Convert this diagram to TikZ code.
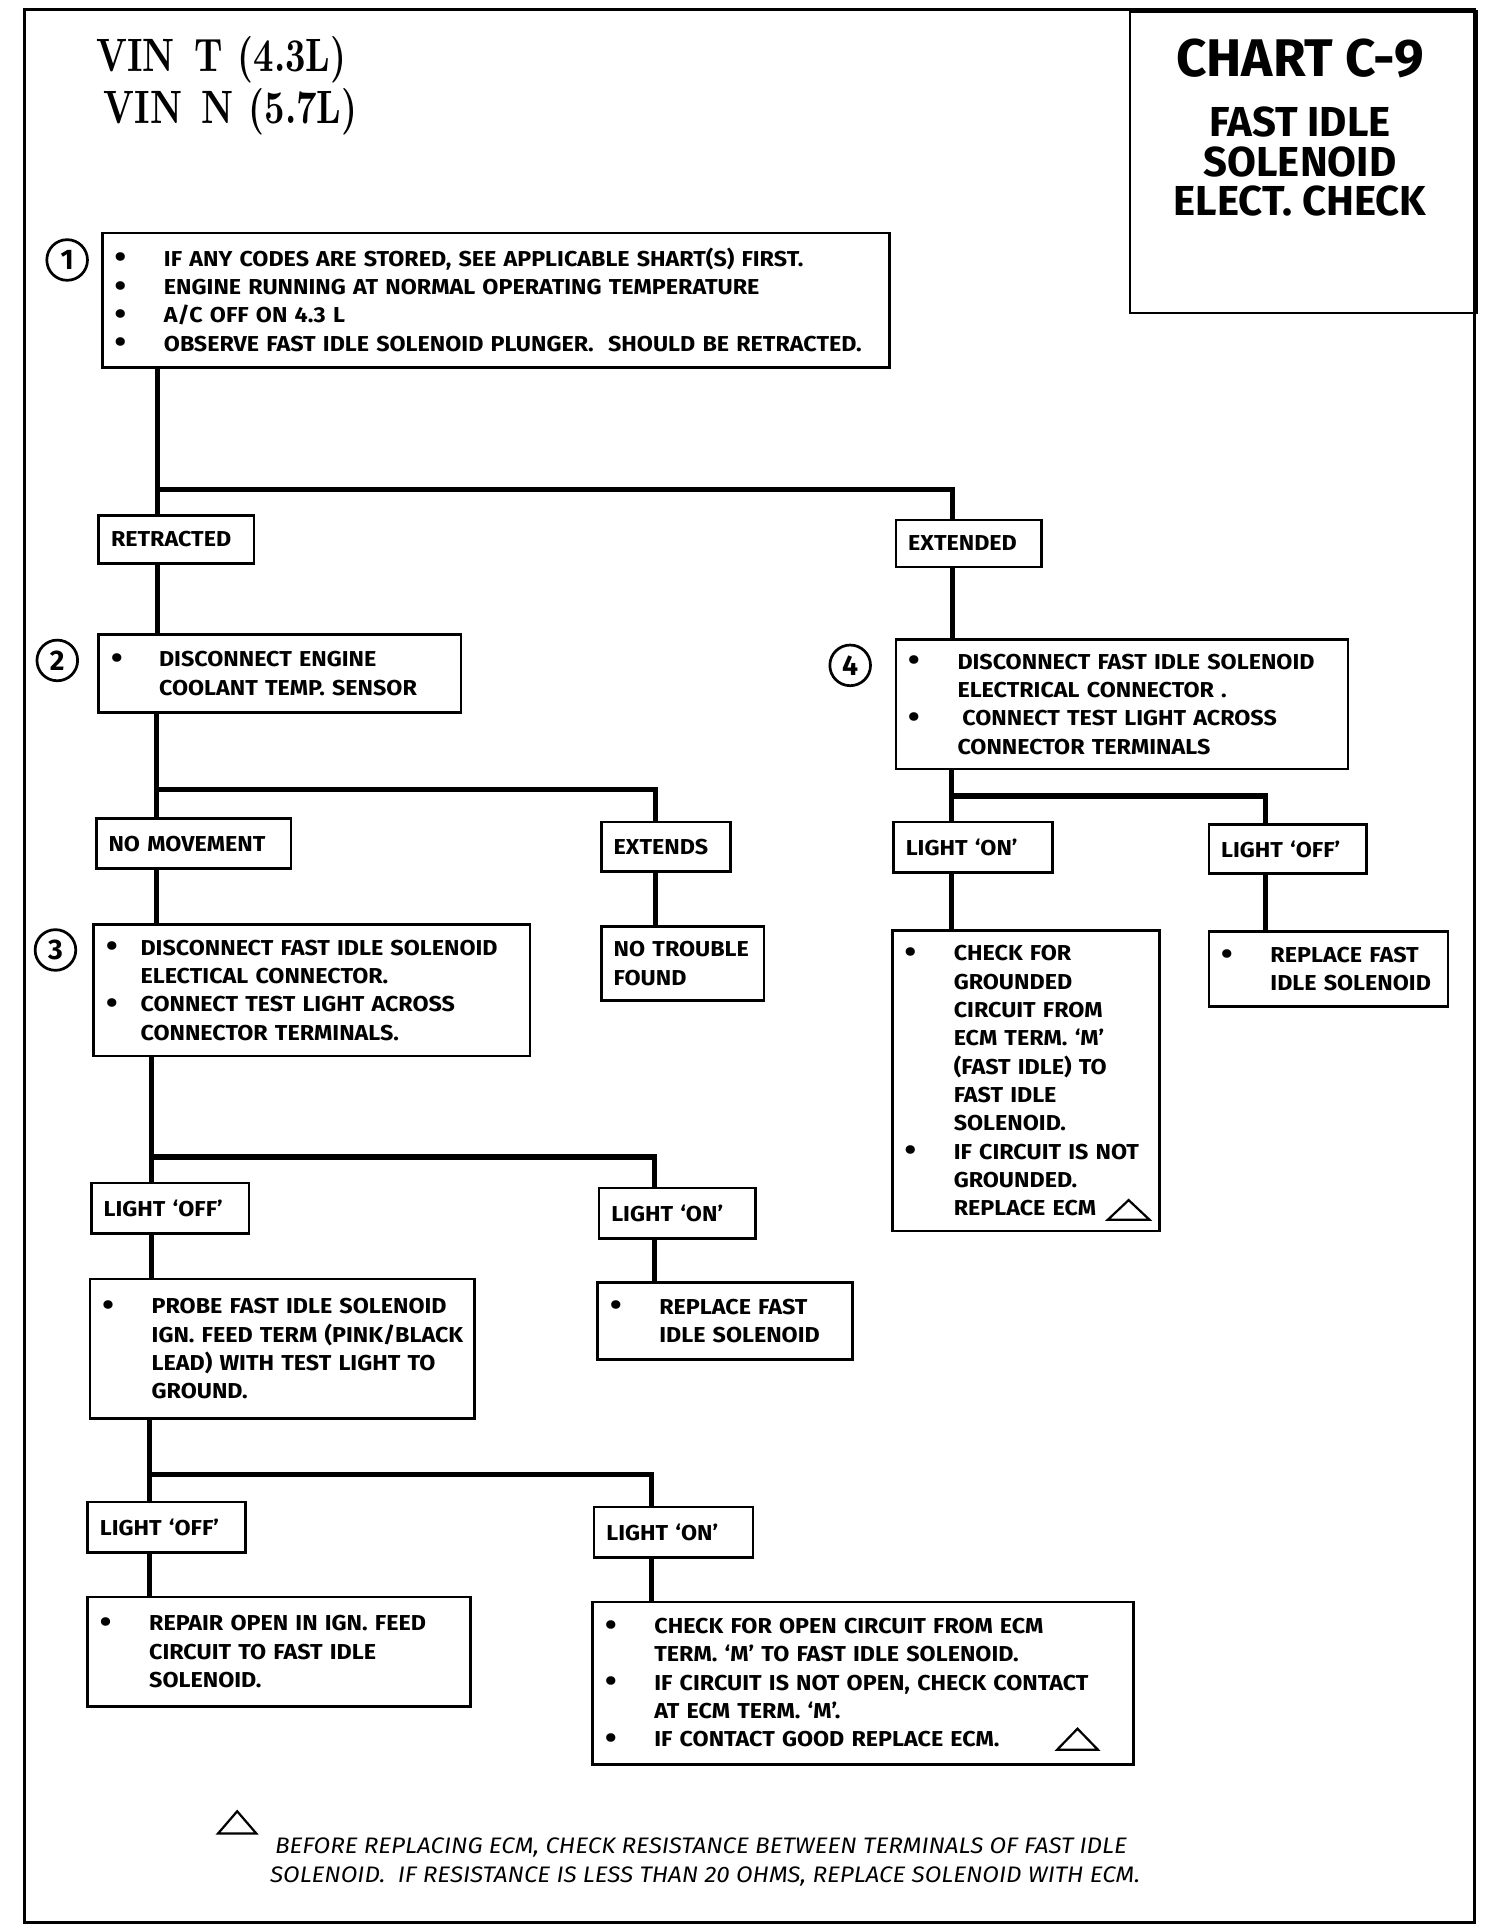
\documentclass[tikz,border=0pt]{standalone}
\usepackage{fontspec}
\usepackage{graphicx}
\setmainfont{Fira Sans}
\newfontfamily\vinfont{lmroman10-bold}[Extension=.otf, FakeStretch=0.76]
\newfontfamily\boxfam{Fira Sans}[FakeStretch=1.08, Ligatures=TeX]
\newcommand\bx{\boxfam\fontsize{17.5}{23}\selectfont\bfseries}
\newcommand\bdot{\raisebox{-1.3pt}{\fontsize{25}{0}\selectfont\textbullet}}
\newcommand\bl[2][40pt]{\mbox{\makebox[#1][l]{\bdot}#2}}
\newcommand\il[2][40pt]{\mbox{\hspace*{#1}#2}}
\tikzset{
  box/.style={draw, line width=2.2pt, anchor=north west, align=left, inner xsep=10pt, inner ysep=0pt, font=\bx},
  conn/.style={line width=4.2pt},
  tri/.style={line width=1.8pt, line join=miter},
  num/.style={circle, draw, line width=2.2pt, minimum size=33pt, inner sep=0pt, font=\fontsize{23}{23}\selectfont\bfseries},
  fnote/.style={anchor=base west, inner sep=0pt, font=\boxfam\fontsize{18.2}{20}\selectfont\itshape},
  vin/.style={anchor=base west, inner sep=0pt, font=\vinfont\fontsize{38}{40}\selectfont},
}
\begin{document}
\begin{tikzpicture}[x=1pt,y=-1pt]
\useasboundingbox (0,0) rectangle (1221,1568);
% outer frame
\draw[line width=2.6pt] (20,8) rectangle (1197,1560);
% header
\node[vin] (vin1) at (78,58) {VIN\hspace{16pt}T\hspace{12pt}(4.3L)};
\node[vin] (vin2) at (84,100) {VIN\hspace{16pt}N\hspace{12pt}(5.7L)};
% title box
\node[draw, line width=2.2pt, anchor=north west, minimum width=281pt, minimum height=245pt, inner sep=0pt] (title) at (916,8) {};
\node[anchor=base, inner sep=0pt, font=\fontsize{43}{44}\selectfont\bfseries] (t1) at (1055,62) {CHART C-9};
\node[anchor=base, inner sep=0pt, font=\fontsize{34}{35}\selectfont\bfseries] (t2) at (1055,111) {FAST IDLE};
\node[anchor=base, inner sep=0pt, font=\fontsize{34}{35}\selectfont\bfseries] (t3) at (1055,143) {SOLENOID};
\node[anchor=base, inner sep=0pt, font=\fontsize{34}{35}\selectfont\bfseries] (t4) at (1055,175) {ELECT. CHECK};

% step numbers
\node[num] (n1) at (54.5,211) {1};
\node[num] (n2) at (46.5,536) {2};
\node[num] (n3) at (45,771) {3};
\node[num] (n4) at (690,540) {4};

% boxes
\node[box, text width=619pt, minimum height=109pt] (b1) at (82,188) {\bl{IF ANY CODES ARE STORED, SEE APPLICABLE SHART(S) FIRST.}\\ \bl{ENGINE RUNNING AT NORMAL OPERATING TEMPERATURE}\\ \bl{A/C OFF ON 4.3 L}\\ \bl{OBSERVE FAST IDLE SOLENOID PLUNGER.\ \ SHOULD BE RETRACTED.}};
\node[box, text width=106pt, minimum height=39pt] (retr) at (79,417) {RETRACTED};
\node[box, text width=98pt, minimum height=38pt] (ext) at (726,421) {EXTENDED};
\node[box, text width=274pt, minimum height=63pt] (b2) at (79,514) {\bl[39pt]{DISCONNECT ENGINE}\\ \il[39pt]{COOLANT TEMP. SENSOR}};
\node[box, text width=347pt, minimum height=105pt] (b4) at (726,518) {\bl{DISCONNECT FAST IDLE SOLENOID}\\ \il{ELECTRICAL CONNECTOR .}\\ \bl{\hspace{4pt}CONNECT TEST LIGHT ACROSS}\\ \il{CONNECTOR TERMINALS}};
\node[box, text width=138pt, minimum height=41pt] (nomov) at (77,663) {NO MOVEMENT};
\node[box, text width=85pt, minimum height=40pt] (extends) at (487,666) {EXTENDS};
\node[box, text width=112pt, minimum height=60pt] (ntf) at (487,751) {NO TROUBLE\\FOUND};
\node[box, text width=334pt, minimum height=107pt] (b3) at (75,749) {\bl[28pt]{DISCONNECT FAST IDLE SOLENOID}\\ \il[28pt]{ELECTICAL CONNECTOR.}\\ \bl[28pt]{CONNECT TEST LIGHT ACROSS}\\ \il[28pt]{CONNECTOR TERMINALS.}};
\node[box, text width=108pt, minimum height=41pt] (loffa) at (73,959) {LIGHT `OFF'};
\node[box, text width=107pt, minimum height=41pt] (lona) at (485,963) {LIGHT `ON'};
\node[box, text width=187pt, minimum height=62pt] (repa) at (484,1040) {\bl{REPLACE FAST}\\ \il{IDLE SOLENOID}};
\node[box, text width=292pt, minimum height=113pt] (probe) at (72,1037) {\bl{PROBE FAST IDLE SOLENOID}\\ \il{IGN. FEED TERM (PINK/BLACK}\\ \il{LEAD) WITH TEST LIGHT TO}\\ \il{GROUND.}};
\node[box, text width=108pt, minimum height=41pt] (loffb) at (70,1218) {LIGHT `OFF'};
\node[box, text width=109pt, minimum height=41pt] (lonb) at (481,1222) {LIGHT `ON'};
\node[box, text width=291pt, minimum height=89pt] (repair) at (70,1295) {\bl{REPAIR OPEN IN IGN. FEED}\\ \il{CIRCUIT TO FAST IDLE}\\ \il{SOLENOID.}};
\node[box, text width=419pt, minimum height=132pt] (chk) at (480,1299) {\bl{CHECK FOR OPEN CIRCUIT FROM ECM}\\ \il{TERM. `M' TO FAST IDLE SOLENOID.}\\ \bl{IF CIRCUIT IS NOT OPEN, CHECK CONTACT}\\ \il{AT ECM TERM. `M'.}\\ \bl{IF CONTACT GOOD REPLACE ECM.}};
\node[box, text width=109pt, minimum height=41pt] (lonc) at (724,666) {LIGHT `ON'};
\node[box, text width=108pt, minimum height=40pt] (loffc) at (980,668) {LIGHT `OFF'};
\node[box, text width=197pt, minimum height=244pt] (gnd) at (723,754) {\bl{CHECK FOR}\\ \il{GROUNDED}\\ \il{CIRCUIT FROM}\\ \il{ECM TERM. `M'}\\ \il{(FAST IDLE) TO}\\ \il{FAST IDLE}\\ \il{SOLENOID.}\\ \bl{IF CIRCUIT IS NOT}\\ \il{GROUNDED.}\\ \il{REPLACE ECM}};
\node[box, text width=174pt, minimum height=61pt] (repc) at (980,755) {\bl{REPLACE FAST}\\ \il{IDLE SOLENOID}};

% triangles
\draw[tri] (899,990) -- (933,990) -- (916,974) -- cycle;
\draw[tri] (858,1420) -- (891,1420) -- (874.5,1403) -- cycle;
\draw[tri] (177,1488) -- (208,1488) -- (192.5,1470) -- cycle;

% footnote
\node[fnote] (fn1) at (223,1504) {BEFORE REPLACING ECM, CHECK RESISTANCE BETWEEN TERMINALS OF FAST IDLE};
\node[fnote] (fn2) at (219,1528) {SOLENOID.\ \ IF RESISTANCE IS LESS THAN 20 OHMS, REPLACE SOLENOID WITH ECM.};

% connectors
\coordinate (j1) at (128,397); \coordinate (j1r) at (773,397);
\draw[conn] (b1.south -| j1) -- (retr.north -| j1);
\draw[conn] (j1) -- (j1r) -- (ext.north -| j1r);
\draw[conn] (retr.south -| j1) -- (b2.north -| j1);
\draw[conn] (ext.south -| j1r) -- (b4.north -| j1r);

\coordinate (j2) at (127,641); \coordinate (j2r) at (532,641);
\draw[conn] (b2.south -| j2) -- (nomov.north -| j2);
\draw[conn] (j2) -- (j2r) -- (extends.north -| j2r);
\draw[conn] (nomov.south -| j2) -- (b3.north -| j2);
\draw[conn] (extends.south -| j2r) -- (ntf.north -| j2r);

\coordinate (j3) at (123,939); \coordinate (j3r) at (531,939);
\draw[conn] (b3.south -| j3) -- (loffa.north -| j3);
\draw[conn] (j3) -- (j3r) -- (lona.north -| j3r);
\draw[conn] (loffa.south -| j3) -- (probe.north -| j3);
\draw[conn] (lona.south -| j3r) -- (repa.north -| j3r);

\coordinate (j4) at (121,1197); \coordinate (j4r) at (529,1197);
\draw[conn] (probe.south -| j4) -- (loffb.north -| j4);
\draw[conn] (j4) -- (j4r) -- (lonb.north -| j4r);
\draw[conn] (loffb.south -| j4) -- (repair.north -| j4);
\draw[conn] (lonb.south -| j4r) -- (chk.north -| j4r);

\coordinate (j5) at (772,646); \coordinate (j5r) at (1027,646);
\draw[conn] (b4.south -| j5) -- (lonc.north -| j5);
\draw[conn] (j5) -- (j5r) -- (loffc.north -| j5r);
\draw[conn] (lonc.south -| j5) -- (gnd.north -| j5);
\draw[conn] (loffc.south -| j5r) -- (repc.north -| j5r);
\end{tikzpicture}
\end{document}
